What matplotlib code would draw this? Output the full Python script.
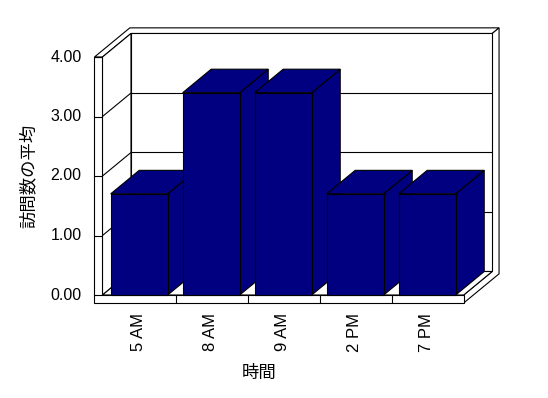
import matplotlib
matplotlib.use("Agg")
from matplotlib import pyplot as plt
from matplotlib.patches import Polygon

# data
categories = ["5 AM", "8 AM", "9 AM", "2 PM", "7 PM"]
values = [1.70, 3.40, 3.40, 1.70, 1.70]
y_ticks = [0, 1, 2, 3, 4]
x_label = "時間"
y_label = "訪問数の平均"

BAR = "#000080"
LW = 0.8

# oblique projection: depth z in [0, 1] shifts up and to the right
KX, KY = 0.396, 0.395
WALL_IN, WALL_OUT = -0.017, -0.128   # left wall planes (category units)
FLOOR_T = 0.134                      # floor thickness (value units)
BACK_OUT = 1.24                      # back wall outer plane (depth units)
YMAX = 4


def P(x, y, z):
    return (x + KX * z, y + KY * z)


def face(ax, pts, fc="white", z=1):
    ax.add_patch(Polygon([P(*p) for p in pts], closed=True, facecolor=fc,
                         edgecolor="black", linewidth=LW, zorder=z,
                         joinstyle="miter"))


def line(ax, a, b, z=2):
    (x0, y0), (x1, y1) = P(*a), P(*b)
    ax.plot([x0, x1], [y0, y1], color="black", lw=LW, zorder=z,
            solid_capstyle="butt")


fig = plt.figure(figsize=(5.48, 3.98), dpi=100)
ax = fig.add_axes([0, 0, 1, 1])
ax.set_xlim(-103.7 / 72, (548 - 103.7) / 72)
ax.set_ylim((295 - 398) / 59.5, 295 / 59.5)
ax.axis("off")

n = len(categories)

# walls and floor
face(ax, [(WALL_OUT, YMAX, 0), (WALL_IN, YMAX, 0), (WALL_IN, YMAX, 1),
          (n, YMAX, 1), (n, YMAX, BACK_OUT), (WALL_OUT, YMAX, BACK_OUT)])
face(ax, [(n, 0, 0), (n, 0, 1), (n, YMAX, 1), (n, YMAX, BACK_OUT),
          (n, -FLOOR_T, BACK_OUT), (n, -FLOOR_T, 0)])
face(ax, [(WALL_IN, 0, 1), (n, 0, 1), (n, YMAX, 1), (WALL_IN, YMAX, 1)])
face(ax, [(WALL_IN, 0, 0), (WALL_IN, 0, 1), (WALL_IN, YMAX, 1),
          (WALL_IN, YMAX, 0)])
face(ax, [(WALL_IN, 0, 0), (n, 0, 0), (n, 0, 1), (WALL_IN, 0, 1)])
face(ax, [(WALL_OUT, YMAX, 0), (WALL_IN, YMAX, 0), (WALL_IN, 0, 0),
          (n, 0, 0), (n, -FLOOR_T, 0), (WALL_OUT, -FLOOR_T, 0)])

# gridlines on back wall and left wall, ticks on the wall front
for v in y_ticks:
    if 0 < v < YMAX:
        line(ax, (WALL_IN, v, 1), (n, v, 1))
        line(ax, (WALL_IN, v, 0), (WALL_IN, v, 1))
    line(ax, (WALL_OUT, v, 0), (WALL_IN, v, 0))
    x, y = P(WALL_OUT, v, 0)
    ax.text(x - 0.18, y, "%.2f" % v, ha="right", va="center",
            fontsize=11.5, family="Liberation Sans")

for i in range(1, n):
    line(ax, (i, 0, 0), (i, -FLOOR_T, 0))

# bars, left to right so each covers its neighbour's side face
for i, v in enumerate(values):
    x0, x1 = i + 0.097, i + 0.889
    face(ax, [(x1, 0, 0), (x1, v, 0), (x1, v, 1), (x1, 0, 1)], BAR, 3 + i)
    face(ax, [(x0, v, 0), (x1, v, 0), (x1, v, 1), (x0, v, 1)], BAR, 3 + i)
    face(ax, [(x0, 0, 0), (x1, 0, 0), (x1, v, 0), (x0, v, 0)], BAR, 3 + i)
    ax.text(i + 0.49, -0.30, categories[i], rotation=90, ha="center",
            va="top", fontsize=12, family="Liberation Sans")

ax.text(2.157, -1.319, x_label, ha="center", va="center", fontsize=12.5,
        family=["Noto Sans CJK JP", "DejaVu Sans"])
ax.text(-1.044, 2.0, y_label, ha="center", va="center", rotation=90,
        fontsize=12.5, family=["Noto Sans CJK JP", "DejaVu Sans"])

fig.savefig("out.png", dpi=100)
